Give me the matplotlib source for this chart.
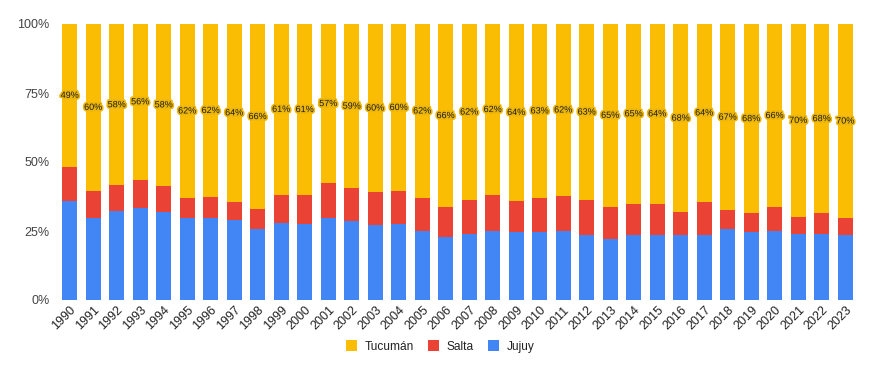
import matplotlib
matplotlib.use("Agg")
import matplotlib.pyplot as plt
import matplotlib.patheffects as pe
from matplotlib.patches import Patch
import numpy as np

plt.rcParams['font.family'] = ['Liberation Sans', 'DejaVu Sans']

years = [str(y) for y in range(1990, 2024)]
jujuy = [35.8, 29.7, 32.2, 33.2, 31.9, 29.7, 29.7, 29.0, 25.7, 27.9,
         27.5, 29.7, 28.6, 27.2, 27.5, 24.9, 22.7, 23.8, 25.1, 24.5,
         24.5, 24.9, 23.4, 22.0, 23.4, 23.4, 23.4, 23.4, 25.6, 24.5,
         24.9, 23.8, 23.8, 23.4]
salta_top = [48.3, 39.6, 41.5, 43.6, 41.4, 37.0, 37.3, 35.6, 32.9, 38.2,
             38.0, 42.3, 40.5, 39.1, 39.5, 37.0, 33.6, 36.2, 38.0, 35.9,
             37.0, 37.7, 36.2, 33.8, 34.9, 34.9, 31.8, 35.6, 32.5, 31.4,
             33.6, 30.1, 31.4, 29.7]
salta = [round(t - j, 1) for t, j in zip(salta_top, jujuy)]
tucuman = [round(100 - t, 1) for t in salta_top]
tucuman_labels = ['49%', '60%', '58%', '56%', '58%', '62%', '62%', '64%', '66%', '61%',
                  '61%', '57%', '59%', '60%', '60%', '62%', '66%', '62%', '62%', '64%',
                  '63%', '62%', '63%', '65%', '65%', '64%', '68%', '64%', '67%', '68%',
                  '66%', '70%', '68%', '70%']

c_tuc = '#FBBC04'
c_sal = '#EA4335'
c_juj = '#4285F4'

fig = plt.figure(figsize=(8.8, 3.71), dpi=100)
ax = fig.add_axes([58/880, (371-300)/371, (857-58)/880, 276/371])

x = np.arange(len(years))
w = 0.64
j = np.array(jujuy); s = np.array(salta); t = np.array(tucuman)
ax.bar(x, j, w, color=c_juj, edgecolor='none')
ax.bar(x, s, w, bottom=j, color=c_sal, edgecolor='none')
ax.bar(x, t, w, bottom=j + s, color=c_tuc, edgecolor='none')

for xi, bi, hi, lab in zip(x, j + s, t, tucuman_labels):
    ax.text(xi, bi + hi / 2, lab, ha='center', va='center', fontsize=6.5,
            color='#1a1a1a',
            path_effects=[pe.withStroke(linewidth=2.5, foreground='#EDB60A')])

ax.set_xlim(-0.5, len(years) - 0.5)
ax.set_ylim(0, 100)
ax.set_yticks([0, 25, 50, 75, 100])
ax.set_yticklabels(['0%', '25%', '50%', '75%', '100%'], fontsize=9, color='#444444')
ax.set_xticks(x)
ax.set_xticklabels(years, rotation=45, ha='right', rotation_mode='anchor',
                   fontsize=9, color='#222222')
ax.tick_params(axis='both', length=0, pad=6)
ax.tick_params(axis='x', pad=3)
for sp in ax.spines.values():
    sp.set_visible(False)

handles = [Patch(facecolor=c_tuc, label='Tucumán'),
           Patch(facecolor=c_sal, label='Salta'),
           Patch(facecolor=c_juj, label='Jujuy')]
fig.legend(handles=handles, loc='center', bbox_to_anchor=(0.5, (371-346.5)/371),
           ncol=3, frameon=False, fontsize=8.6, handlelength=0.95, handleheight=0.95,
           handletextpad=0.6, columnspacing=1.2, labelcolor='#222222')

fig.savefig('out.png', dpi=100)
